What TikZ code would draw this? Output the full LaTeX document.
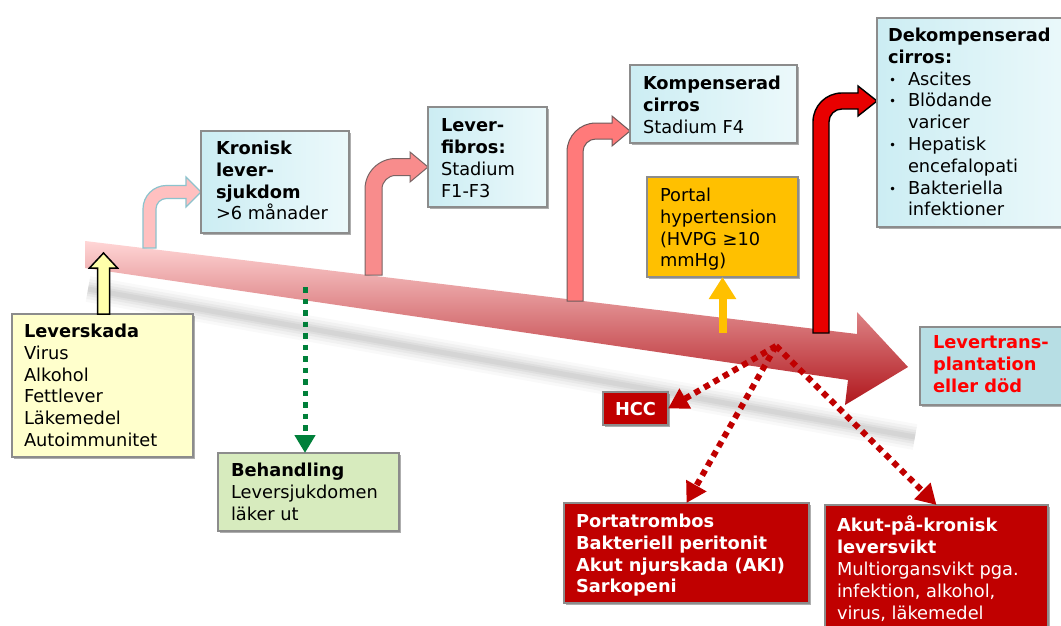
\documentclass[tikz,border=0pt]{standalone}
\usepackage{fontspec}
\setmainfont{DejaVu Sans}
\usetikzlibrary{arrows.meta,shadows,calc}

\definecolor{arrowlight}{RGB}{255,214,214}
\definecolor{arrowmid}{RGB}{238,138,138}
\definecolor{arrowdark}{RGB}{176,22,28}
\definecolor{boxblueA}{RGB}{204,237,243}
\definecolor{boxblueB}{RGB}{236,249,251}
\definecolor{boxyellow}{RGB}{255,255,204}
\definecolor{boxorange}{RGB}{255,192,0}
\definecolor{boxteal}{RGB}{183,222,228}
\definecolor{boxred}{RGB}{192,0,0}
\definecolor{boxgreen}{RGB}{215,235,190}
\definecolor{dotgreen}{RGB}{0,128,58}
\definecolor{alertred}{RGB}{255,0,0}
\definecolor{bentAfill}{RGB}{255,192,192}
\definecolor{bentAline}{RGB}{140,195,205}
\definecolor{bentBfill}{RGB}{248,140,140}
\definecolor{bentBline}{RGB}{120,100,100}
\definecolor{bentCfill}{RGB}{255,122,122}
\definecolor{bentCline}{RGB}{110,90,90}
\definecolor{bentDfill}{RGB}{232,0,0}
\definecolor{upyellow}{RGB}{255,255,170}

\tikzset{
  panelbox/.style={draw=black!45, line width=1.4pt, inner sep=0pt, outer sep=0pt,
    drop shadow={shadow xshift=2pt, shadow yshift=-2pt, opacity=0.45, fill=black!70}},
  paneltext/.style={align=left, inner sep=0pt, outer sep=0pt,
    font=\fontsize{17.8}{21.8}\selectfont},
  bluebox/.style={left color=boxblueA, right color=boxblueB},
  yellowbox/.style={fill=boxyellow},
  orangebox/.style={fill=boxorange},
  tealbox/.style={fill=boxteal},
  redbox/.style={fill=boxred},
  greenbox/.style={fill=boxgreen},
  bentA/.style={fill=bentAfill, draw=bentAline, line width=1.2pt},
  bentB/.style={fill=bentBfill, draw=bentBline, line width=1pt},
  bentC/.style={fill=bentCfill, draw=bentCline, line width=1pt},
  bentD/.style={fill=bentDfill, draw=black, line width=1.4pt},
  greendots/.style={draw=dotgreen, line width=5pt, dash pattern=on 5.5pt off 6pt,
    -{Triangle[length=18pt,width=20pt]}},
  reddots/.style={draw=boxred, line width=6pt, dash pattern=on 6pt off 5pt,
    -{Triangle[length=20pt,width=22pt]}},
  orangeup/.style={draw=boxorange, line width=8pt, -{Triangle[length=22pt,width=26pt]}},
}

% box with its text: name, box style, text style, left, top, right, bottom, text offset, text
\newcommand{\stagebox}[9]{%
  \node[panelbox,#2,anchor=north west,minimum width={(#6-#4)*1pt},
    minimum height={(#7-#5)*1pt}] (#1) at (#4,#5) {};
  \node[paneltext,#3,anchor=north west] (#1-txt) at ([shift={(#8)}]#1.north west) {#9};
}

% up-then-right block arrow: style, shaft left, width, bottom, head centre y, head back, tip, half head
\newcommand{\bentarrow}[8]{%
  \pgfmathsetmacro{\baYt}{#5-#3/2}
  \pgfmathsetmacro{\baYb}{#5+#3/2}
  \pgfmathsetmacro{\baXr}{#2+#3}
  \pgfmathsetmacro{\baRo}{1.8*#3}
  \pgfmathsetmacro{\baRi}{0.8*#3}
  \filldraw[#1] (#2,#4) -- (#2,\baYt+\baRo)
    .. controls (#2,\baYt+0.45*\baRo) and (#2+0.45*\baRo,\baYt) .. (#2+\baRo,\baYt)
    -- (#6,\baYt) -- (#6,#5-#8) -- (#7,#5) -- (#6,#5+#8) -- (#6,\baYb)
    -- (\baXr+\baRi,\baYb)
    .. controls (\baXr+0.45*\baRi,\baYb) and (\baXr,\baYb+0.45*\baRi) .. (\baXr,\baYb+\baRi)
    -- (\baXr,#4) -- cycle;
}

\newcommand{\itembul}{\makebox[20pt][l]{\hspace{1pt}\raisebox{1pt}{\fontsize{12}{12}\selectfont •}}}
\newcommand{\itemind}{\hspace*{20pt}}

\begin{document}
\begin{tikzpicture}[x=1pt,y=-1pt]
\useasboundingbox (0,0) rectangle (1061,626);
\fill[white] (0,0) rectangle (1061,626);
\clip (0,0) rectangle (1061,626);

% soft shadow under the timeline arrow
\foreach \w/\o in {26/0.025,20/0.03,14/0.035,9/0.04,5/0.04}
  \draw[black, opacity=\o, line width=\w pt] (88,289) -- (915,437);

% timeline arrow
\shade[top color=arrowlight, middle color=arrowmid, bottom color=arrowdark]
  (85,241) -- (857,334) -- (857,312) -- (908,367) -- (845,405) -- (848,380) -- (85,268) -- cycle;

% bent arrows rising from the timeline
\bentarrow{bentA}{143}{13}{248}{192}{186}{201}{15}
\bentarrow{bentB}{365}{17}{275}{167}{410}{428}{15}
\bentarrow{bentC}{567}{16}{301}{131}{612}{630}{15}
\bentarrow{bentD}{813}{16}{333}{101}{858}{877}{15}

% boxes
\stagebox{lev}{yellowbox}{}{12}{314}{193}{457}{12,10}{\textbf{Leverskada}\\Virus\\Alkohol\\Fettlever\\Läkemedel\\Autoimmunitet}
\stagebox{kron}{bluebox}{}{201}{131}{349}{233}{15,10}{\textbf{Kronisk}\\\textbf{lever-}\\\textbf{sjukdom}\\>6 månader}
\stagebox{fib}{bluebox}{}{428}{107}{547}{207}{13,12}{\textbf{Lever-}\\\textbf{fibros:}\\Stadium\\F1-F3}
\stagebox{komp}{bluebox}{}{630}{65}{797}{143}{13,11}{\textbf{Kompenserad}\\\textbf{cirros}\\Stadium F4}
\stagebox{portal}{orangebox}{}{647}{177}{798}{277}{13,11}{Portal\\hypertension\\(HVPG ≥10\\mmHg)}
\stagebox{dek}{bluebox}{}{877}{18}{1075}{227}{11,10}{\textbf{Dekompenserad}\\\textbf{cirros:}\\\itembul Ascites\\\itembul Blödande\\\itemind varicer\\\itembul Hepatisk\\\itemind encefalopati\\\itembul Bakteriella\\\itemind infektioner}
\stagebox{ltx}{tealbox}{text=alertred,font=\fontsize{17.8}{21.8}\selectfont\bfseries}{920}{327}{1075}{405}{13,9}{Levertrans-\\plantation\\eller död}
\stagebox{hcc}{redbox}{text=white,font=\fontsize{17.8}{21.8}\selectfont\bfseries}{603}{392}{668}{425}{12,10}{HCC}
\stagebox{pt}{redbox}{text=white,font=\fontsize{17.8}{21.8}\selectfont\bfseries}{564}{503}{809}{603}{12,11}{Portatrombos\\Bakteriell peritonit\\Akut njurskada (AKI)\\Sarkopeni}
\stagebox{aki}{redbox}{text=white}{825}{505}{1048}{640}{12,11}{\textbf{Akut-på-kronisk}\\\textbf{leversvikt}\\Multiorgansvikt pga.\\infektion, alkohol,\\virus, läkemedel}
\stagebox{beh}{greenbox}{}{218}{453}{399}{531}{13,10}{\textbf{Behandling}\\Leversjukdomen\\läker ut}

% liver injury feeding the timeline
\begin{scope}[shift={(lev.north)}]
  \filldraw[fill=upyellow, draw=black, line width=1.5pt, line join=miter]
    (-5,0) -- (-5,-46) -- (-13,-46) -- (1,-61) -- (15,-46) -- (7,-46) -- (7,0) -- cycle;
\end{scope}

% treatment
\coordinate (gsrc) at (305,287);
\draw[greendots] (gsrc) -- (gsrc |- beh.north);

% portal hypertension
\draw[orangeup] ($(portal.south)+(0,56)$) -- (portal.south);

% complications
\coordinate (rsrc) at (776,346);
\draw[reddots] (rsrc) -- (hcc.east);
\draw[reddots] (rsrc) -- (pt.north);
\draw[reddots] (rsrc) -- (aki.north);
\end{tikzpicture}
\end{document}
